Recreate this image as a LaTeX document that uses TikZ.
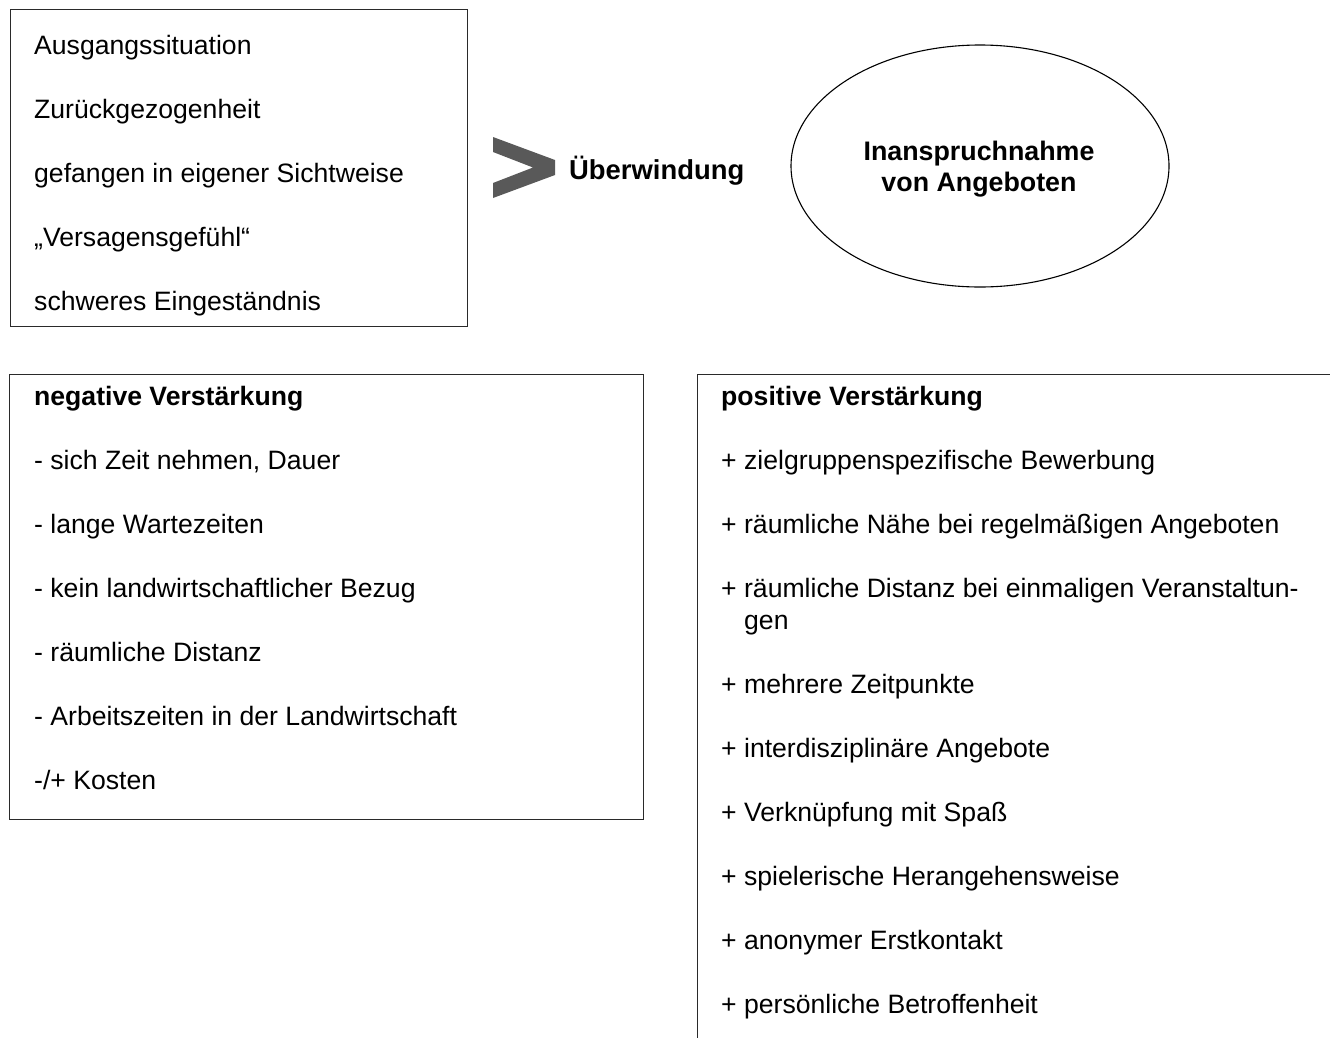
\documentclass[tikz,border=0pt]{standalone}
\usepackage{fontspec}
\setmainfont{Liberation Sans}
\usetikzlibrary{shapes.geometric}
\definecolor{chev}{HTML}{595959}
\definecolor{edge}{HTML}{2A2A2A}
\tikzset{
  frame/.style={draw=edge, line width=1.3pt, rectangle, inner sep=0pt, anchor=north west},
  txt/.style={anchor=base west, inner sep=0pt, font=\fontsize{26.6}{32}\selectfont},
  btxt/.style={txt, font=\fontsize{26.6}{32}\selectfont\bfseries},
  oval/.style={draw=black, line width=1.1pt, ellipse, inner sep=0pt, minimum width=378pt, minimum height=242pt}
}
\begin{document}
\begin{tikzpicture}[x=1pt,y=-1pt]
\useasboundingbox (0,0) rectangle (1330,1037);
\clip (0,0) rectangle (1330,1037);
% frames
\node[frame, minimum width=457pt, minimum height=317pt] (sit) at (10,9) {};
\node[frame, minimum width=634pt, minimum height=445pt] (neg) at (9,374) {};
\node[frame, minimum width=700pt, minimum height=720pt] (pos) at (697,374) {};
\node[oval] (goal) at (980,166) {};
% chevron
\fill[chev] (493,137) -- (555,160) -- (555,175) -- (493,198) -- (493,183) -- (533,167.5) -- (493,152) -- cycle;
\node[btxt, font=\fontsize{27.4}{32}\selectfont\bfseries] (ueb) at (569,179) {Überwindung};
% ellipse text
\node[anchor=base, inner sep=0pt, font=\fontsize{26.8}{32}\selectfont\bfseries] (g1) at (979,160) {Inanspruchnahme};
\node[anchor=base, inner sep=0pt, font=\fontsize{26.8}{32}\selectfont\bfseries] (g2) at (979,191) {von Angeboten};
% situation
\node[txt] (s1) at (34,54) {Ausgangssituation};
\node[txt] (s2) at (34,118) {Zurückgezogenheit};
\node[txt] (s3) at (34,182) {gefangen in eigener Sichtweise};
\node[txt] (s4) at (34,246) {„Versagensgefühl“};
\node[txt] (s5) at (34,310) {schweres Eingeständnis};
% negative
\node[btxt] (n0) at (34,405) {negative Verstärkung};
\node[txt] (n1) at (34,469) {- sich Zeit nehmen, Dauer};
\node[txt] (n2) at (34,533) {- lange Wartezeiten};
\node[txt] (n3) at (34,597) {- kein landwirtschaftlicher Bezug};
\node[txt] (n4) at (34,661) {- räumliche Distanz};
\node[txt] (n5) at (34,725) {- Arbeitszeiten in der Landwirtschaft};
\node[txt] (n6) at (34,789) {-/+ Kosten};
% positive
\node[btxt] (p0) at (721,405) {positive Verstärkung};
\node[txt] (p1) at (721,469) {+ zielgruppenspezifische Bewerbung};
\node[txt] (p2) at (721,533) {+ räumliche Nähe bei regelmäßigen Angeboten};
\node[txt] (p3) at (721,597) {+ räumliche Distanz bei einmaligen Veranstaltun-};
\node[txt] (p3b) at (744,629) {gen};
\node[txt] (p4) at (721,693) {+ mehrere Zeitpunkte};
\node[txt] (p5) at (721,757) {+ interdisziplinäre Angebote};
\node[txt] (p6) at (721,821) {+ Verknüpfung mit Spaß};
\node[txt] (p7) at (721,885) {+ spielerische Herangehensweise};
\node[txt] (p8) at (721,949) {+ anonymer Erstkontakt};
\node[txt] (p9) at (721,1013) {+ persönliche Betroffenheit};
\end{tikzpicture}
\end{document}
